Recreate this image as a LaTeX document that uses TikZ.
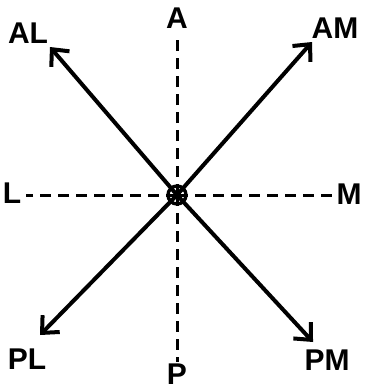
\documentclass[tikz,border=0pt]{standalone}
\usepackage{fontspec}
\setmainfont{Liberation Sans}
\usetikzlibrary{arrows.meta}
\begin{document}
\begin{tikzpicture}[x=1pt,y=-1pt,
  lbl/.style={font=\bfseries\fontsize{30}{30}\selectfont, inner sep=0pt},
  axis/.style={line width=3pt, dash pattern=on 11pt off 7pt},
  ray/.style={line width=4pt, -{Straight Barb[length=13pt,width=24pt,line width=4pt]}},
  hub/.style={circle, draw, line width=3.4pt, minimum size=18pt, inner sep=0pt}]
\useasboundingbox (0,0) rectangle (365,391);
\coordinate (c) at (177,195);
\coordinate (tAL) at (50,47);
\coordinate (tAM) at (312,42);
\coordinate (tPL) at (40,335);
\coordinate (tPM) at (313,342);
\coordinate (vA) at (177,40);
\coordinate (vP) at (177,362);
\coordinate (hL) at (26,195);
\coordinate (hM) at (332,195);
\node[lbl] (AL) at (28,33) {AL};
\node[lbl] (AM) at (335,28) {AM};
\node[lbl] (PL) at (27,359) {PL};
\node[lbl] (PM) at (327,360) {PM};
\node[lbl] (A) at (177,18) {A};
\node[lbl] (P) at (177,374) {P};
\node[lbl] (L) at (12,193) {L};
\node[lbl] (M) at (349,194) {M};
\draw[axis] (c) -- (vA);
\draw[axis] (c) -- (vP);
\draw[axis] (c) -- (hL);
\draw[axis] (c) -- (hM);
\draw[ray] (c) -- (tAL);
\draw[ray] (c) -- (tAM);
\draw[ray] (c) -- (tPL);
\draw[ray] (c) -- (tPM);
\node[hub] (o) at (c) {};
\end{tikzpicture}
\end{document}
